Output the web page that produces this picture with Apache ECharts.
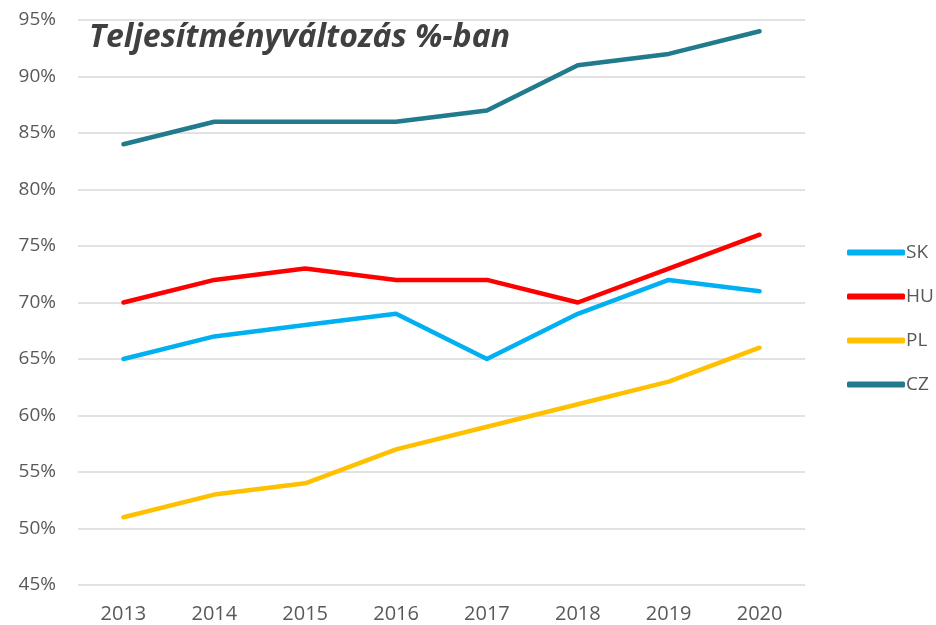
<!DOCTYPE html>
<html><head><meta charset="utf-8">
<script src="https://cdn.jsdelivr.net/npm/echarts@6/dist/echarts.min.js"></script>
<style>html,body{margin:0;padding:0;background:#fff}#c{width:936px;height:625px}</style>
</head><body><div id="c"></div>
<script>
const categories = ['2013','2014','2015','2016','2017','2018','2019','2020'];
const SK = [65, 67, 68, 69, 65, 69, 72, 71];
const HU = [70, 72, 73, 72, 72, 70, 73, 76];
const PL = [51, 53, 54, 57, 59, 61, 63, 66];
const CZ = [84, 86, 86, 86, 87, 91, 92, 94];
const titleText = 'Teljesítményváltozás %-ban';

const font = '"Open Sans", "Liberation Sans", sans-serif';
function s(name, data, color) {
  return { name, type: 'line', data, symbol: 'none', smooth: false,
    lineStyle: { color, width: 4.5, cap: 'round', join: 'round' }, itemStyle: { color } };
}
const chart = echarts.init(document.getElementById('c'));
chart.setOption({
  animation: false,
  backgroundColor: '#fff',
  title: { text: titleText, left: 84, top: 17,
    textStyle: { fontFamily: font, fontSize: 32, fontWeight: 'bold', fontStyle: 'italic', color: '#404040' } },
  grid: { left: 78, right: 131, top: 20, bottom: 40 },
  legend: { orient: 'vertical', left: 842, top: 238, itemGap: 25, itemWidth: 58, itemHeight: 6,
    icon: 'roundRect',
    textStyle: { fontFamily: font, fontSize: 19, color: '#595959', padding: [0, 0, 0, -4] },
    data: ['SK', 'HU', 'PL', 'CZ'] },
  xAxis: { type: 'category', data: categories, boundaryGap: true,
    axisLine: { show: false }, axisTick: { show: false },
    axisLabel: { fontFamily: font, fontSize: 20, color: '#595959', margin: 19 } },
  yAxis: { type: 'value', min: 45, max: 95, interval: 5,
    axisLine: { show: false }, axisTick: { show: false },
    splitLine: { lineStyle: { color: '#d9d9d9', width: 1.5 } },
    axisLabel: { fontFamily: font, fontSize: 19, color: '#595959', margin: 22, formatter: '{value}%' } },
  series: [ s('SK', SK, '#00B0F0'), s('HU', HU, '#FF0000'), s('PL', PL, '#FFC000'), s('CZ', CZ, '#217B8D') ]
});
</script></body></html>
